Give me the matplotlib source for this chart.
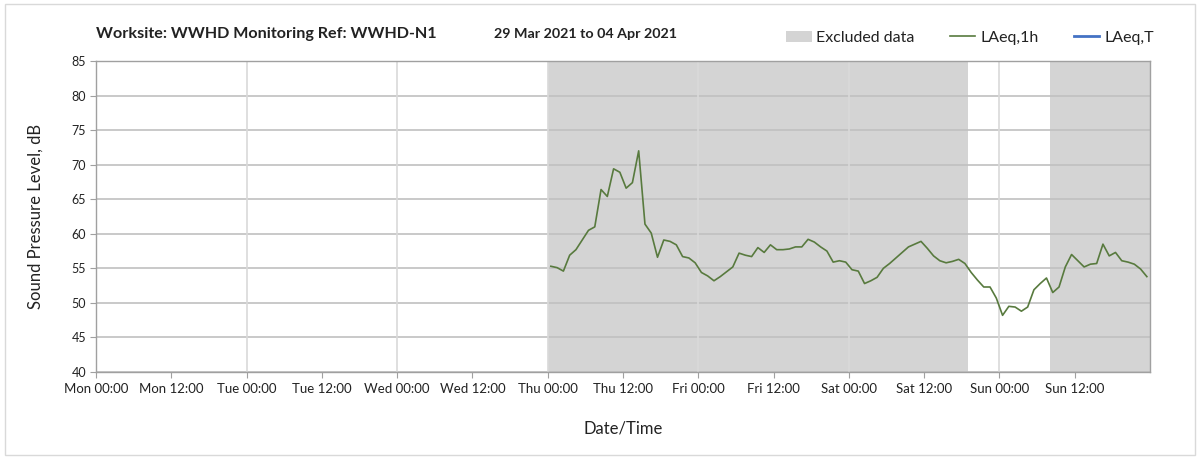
import matplotlib
matplotlib.use("Agg")
import matplotlib.pyplot as plt
from matplotlib.patches import Patch, Rectangle
from matplotlib.lines import Line2D
import pandas as pd

# ---- data ----
title_left = "Worksite: WWHD Monitoring Ref: WWHD-N1"
title_right = "29 Mar 2021 to 04 Apr 2021"
axis_start = "2021-03-29 00:00"
axis_end = "2021-04-05 00:00"
series_start = "2021-04-01 00:30"
laeq_1h = [
    55.3, 55.1, 54.6, 56.9, 57.7, 59.1, 60.5, 61.0, 66.4, 65.4,
    69.4, 68.9, 66.6, 67.4, 72.0, 61.4, 60.1, 56.6, 59.1, 58.9,
    58.4, 56.7, 56.5, 55.8, 54.4, 53.9, 53.2, 53.8, 54.5, 55.2,
    57.2, 56.9, 56.7, 58.0, 57.3, 58.4, 57.7, 57.7, 57.8, 58.1,
    58.1, 59.2, 58.8, 58.1, 57.5, 55.9, 56.1, 55.9, 54.8, 54.6,
    52.8, 53.2, 53.7, 55.0, 55.7, 56.5, 57.3, 58.1, 58.5, 58.9,
    57.9, 56.8, 56.1, 55.8, 56.0, 56.3, 55.7, 54.4, 53.3, 52.3,
    52.3, 50.7, 48.2, 49.5, 49.4, 48.8, 49.4, 51.9, 52.8, 53.6,
    51.5, 52.3, 55.2, 57.0, 56.1, 55.2, 55.6, 55.7, 58.5, 56.8,
    57.3, 56.1, 55.9, 55.6, 54.9, 53.8,
]
excluded_periods = [
    ("2021-04-01 00:00", "2021-04-03 19:00"),
    ("2021-04-04 08:00", "2021-04-05 00:00"),
]
y_ticks = [40, 45, 50, 55, 60, 65, 70, 75, 80, 85]
legend_labels = ["Excluded data", "LAeq,1h", "LAeq,T"]

# ---- style ----
plt.rcParams['font.family'] = ['Lato', 'DejaVu Sans']
GREEN = "#587a3e"
BLUE = "#4472c4"
EXCL = "#d4d4d4"
GRID = "#c0c0c0"
TXT = "#222222"

W, H = 1203, 457
fig = plt.figure(figsize=(W / 100, H / 100), dpi=100)
ax = fig.add_axes([96 / W, 1 - 372 / H, (1150 - 96) / W, (372 - 61) / H])

t0 = pd.Timestamp(axis_start)
t1 = pd.Timestamp(axis_end)
times = pd.date_range(series_start, periods=len(laeq_1h), freq="h")

for a, b in excluded_periods:
    ax.axvspan(pd.Timestamp(a), pd.Timestamp(b), color=EXCL, lw=0, zorder=0)

ax.plot(times, laeq_1h, color=GREEN, lw=1.2, zorder=3)

ax.set_xlim(t0, t1)
ax.set_ylim(40, 85)
ax.set_yticks(y_ticks)
xt = pd.date_range(t0, t1 - pd.Timedelta(hours=12), freq="12h")
ax.set_xticks(xt)
ax.set_xticklabels([d.strftime("%a %H:%M") for d in xt])

# grid lines
ax.grid(axis="y", color=GRID, lw=1.2, zorder=1)
for d in pd.date_range(t0 + pd.Timedelta(days=1), t1 - pd.Timedelta(days=1), freq="D"):
    ax.axvline(d, color="#d9d9d9", lw=1.2, zorder=1)
ax.set_axisbelow(True)

for s in ax.spines.values():
    s.set_color("#a0a0a0")
    s.set_linewidth(1.0)

ax.tick_params(axis="both", colors="#a0a0a0", labelcolor=TXT,
               length=4, width=0.8)
ax.tick_params(axis="y", pad=3, labelsize=9)
ax.tick_params(axis="x", pad=4, labelsize=9.5)

ax.set_ylabel("Sound Pressure Level, dB", fontsize=12, color=TXT, labelpad=20)
ax.set_xlabel("Date/Time", fontsize=12, color=TXT, labelpad=18)

# titles
fig.text(96 / W, 1 - 34 / H, title_left, ha="left", va="center",
         fontsize=11.6, fontweight="bold", color=TXT)
fig.text(494 / W, 1 - 34 / H, title_right, ha="left", va="center",
         fontsize=10.3, fontweight="bold", color=TXT)

# legend
handles = [Patch(facecolor=EXCL, edgecolor="none"),
           Line2D([], [], color=GREEN, lw=1.2),
           Line2D([], [], color=BLUE, lw=2)]
fig.legend(handles, legend_labels, loc="center right", ncol=3,
           bbox_to_anchor=(1168 / W, 1 - 38 / H), frameon=False,
           fontsize=11.5, handlelength=1.6, handletextpad=0.3,
           columnspacing=2.2, labelcolor=TXT)

# outer frame
fig.patches.append(Rectangle((5 / W, 2 / H), (1195 - 5) / W, (453 - 2) / H,
                             transform=fig.transFigure, fill=False,
                             edgecolor="#d9d9d9", lw=1.0))

fig.savefig("out.png", dpi=100)
